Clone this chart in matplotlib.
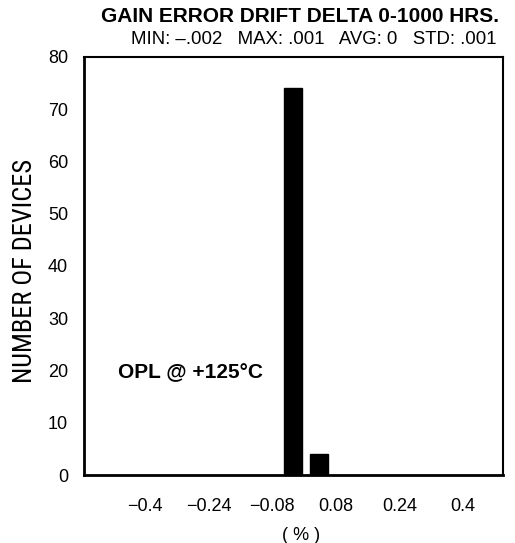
import matplotlib
matplotlib.use("Agg")
import matplotlib.pyplot as plt

# Data
bin_centers = [-0.028, 0.038]
counts = [74, 4]
bar_width = 0.045
x_ticks = [-0.4, -0.24, -0.08, 0.08, 0.24, 0.4]
x_tick_labels = ["\u22120.4", "\u22120.24", "\u22120.08", "0.08", "0.24", "0.4"]
y_ticks = [0, 10, 20, 30, 40, 50, 60, 70, 80]

title = "GAIN ERROR DRIFT DELTA 0-1000 HRS."
subtitle = "MIN: \u2013.002   MAX: .001   AVG: 0   STD: .001"
note = "OPL @ +125\u00b0C"

plt.rcParams['font.family'] = ['Liberation Sans', 'DejaVu Sans']

fig = plt.figure(figsize=(5.15, 5.43), dpi=100)
ax = fig.add_axes([84/515, (543-475)/543, (503-84)/515, (475-57)/543])

ax.bar(bin_centers, counts, width=bar_width, color='black', edgecolor='black', zorder=3)

ax.set_xlim(-0.5535, 0.5006)
ax.set_ylim(0, 80)
ax.set_xticks(x_ticks)
ax.set_xticklabels(x_tick_labels, fontsize=13)
ax.set_yticks(y_ticks)
ax.set_yticklabels([str(v) for v in y_ticks], fontsize=13)
ax.tick_params(axis='both', length=0)
ax.tick_params(axis='x', pad=16.5)
ax.tick_params(axis='y', pad=11.5)

for s in ['left', 'bottom']:
    ax.spines[s].set_linewidth(2.0)
for s in ['top', 'right']:
    ax.spines[s].set_linewidth(1.5)

ax.set_xlabel("( % )", fontsize=13)
ax.xaxis.set_label_coords(0.518, -0.125)

fig.text(25/515, 1 - 271/543, "NUMBER OF DEVICES", rotation=90, ha='center', va='center',
         fontsize=19, family=['Roboto Condensed', 'Archivo Narrow', 'PT Sans Narrow', 'Liberation Sans'])

ax.text(0.081, 0.246, note, transform=ax.transAxes, fontsize=15, fontweight='bold',
        ha='left', va='center')

fig.text(300/515, 1 - 16/543, title, ha='center', va='center', fontsize=15, fontweight='bold')
fig.text(314/515, 1 - 40/543, subtitle, ha='center', va='center', fontsize=13.4)

fig.savefig("out.png", dpi=100)
